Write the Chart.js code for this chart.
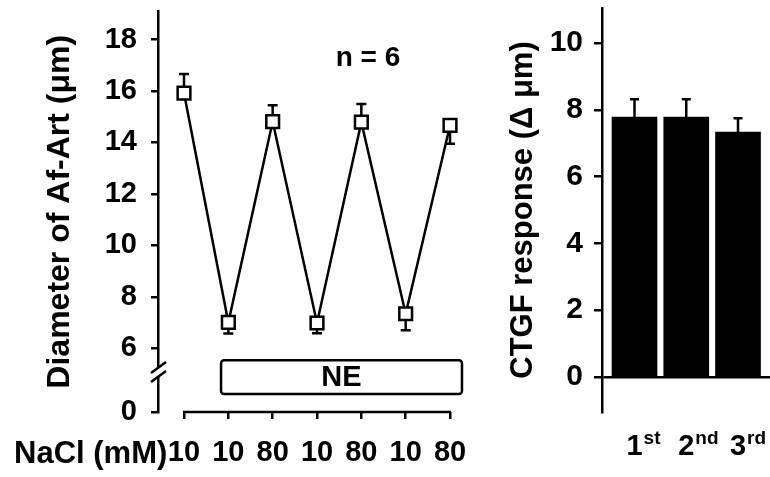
<!DOCTYPE html>
<html><head><meta charset="utf-8">
<script src="https://cdn.jsdelivr.net/npm/chart.js@4.4.0/dist/chart.umd.min.js"></script>
<style>
html,body{margin:0;padding:0;background:#fff;width:770px;height:477px;overflow:hidden;}
#left{position:absolute;left:0;top:0;}
#right{position:absolute;left:490px;top:0;}
</style></head><body>
<canvas id="left" width="490" height="477"></canvas>
<canvas id="right" width="280" height="477"></canvas>
<script>
// ---- data ----
const naclLabels = ['10', '10', '80', '10', '80', '10', '80'];
const diameter = [15.92, 7.0, 14.81, 6.98, 14.79, 7.34, 14.66];
const diameterErr = [0.74, 0.43, 0.64, 0.40, 0.70, 0.64, 0.71];
const diameterErrDir = [1, -1, 1, -1, 1, -1, -1];
const leftYTicks = [0, 6, 8, 10, 12, 14, 16, 18];
const responseLabels = ['1', '2', '3'];
const responseSup = ['st', 'nd', 'rd'];
const response = [7.78, 7.78, 7.33];
const responseErr = [0.54, 0.54, 0.42];
const rightYTicks = [0, 2, 4, 6, 8, 10];

// ---- styling ----
const FONT = "'Liberation Sans', Arial, Helvetica, sans-serif";
const BREAK_MIN = 3.52;   // axis position standing for "0" below the axis break
const bold = (size) => ({ family: FONT, size: size, weight: 'bold' });
const noPadY = (w) => (s) => { s.width = w; s.paddingTop = 0; s.paddingBottom = 0; };
const noPadX = (h) => (s) => { s.height = h; s.paddingLeft = 0; s.paddingRight = 0; };

const leftDeco = {
  id: 'leftDeco',
  beforeDatasetsDraw(chart) {
    const { ctx, scales: { x, y } } = chart;
    ctx.save();
    ctx.strokeStyle = '#000';
    ctx.lineWidth = 2.5;
    diameter.forEach((v, i) => {
      const px = x.getPixelForValue(i);
      const py = y.getPixelForValue(v);
      const pe = y.getPixelForValue(v + diameterErrDir[i] * diameterErr[i]);
      ctx.beginPath();
      ctx.moveTo(px, py); ctx.lineTo(px, pe);
      ctx.moveTo(px - 5, pe); ctx.lineTo(px + 5, pe);
      ctx.stroke();
    });
    ctx.restore();
  },
  afterDraw(chart) {
    const { ctx, chartArea, scales: { x, y } } = chart;
    ctx.save();
    ctx.strokeStyle = '#000';
    ctx.fillStyle = '#000';
    ctx.lineWidth = 2.5;
    // x axis line between first and last tick
    ctx.beginPath();
    ctx.moveTo(x.getPixelForValue(0) - 1, chartArea.bottom);
    ctx.lineTo(x.getPixelForValue(naclLabels.length - 1) + 1, chartArea.bottom);
    ctx.stroke();
    // axis break
    const L = chartArea.left;
    const yA = y.getPixelForValue(5.23), yB = y.getPixelForValue(4.88);
    ctx.fillStyle = '#fff';
    ctx.fillRect(L - 4, yA, 8, yB - yA);
    ctx.beginPath();
    ctx.moveTo(L - 7, yA + 5); ctx.lineTo(L + 8, yA - 6);
    ctx.moveTo(L - 7, yB + 5); ctx.lineTo(L + 8, yB - 6);
    ctx.stroke();
    // NE box
    const bx0 = x.getPixelForValue(0.835), bx1 = x.getPixelForValue(6.27);
    const by0 = y.getPixelForValue(5.535), by1 = y.getPixelForValue(4.22);
    ctx.beginPath();
    ctx.roundRect(bx0, by0, bx1 - bx0, by1 - by0, 3);
    ctx.stroke();
    ctx.fillStyle = '#000';
    ctx.textAlign = 'center';
    ctx.textBaseline = 'middle';
    ctx.font = "bold 29px " + FONT;
    ctx.fillText('NE', (bx0 + bx1) / 2, (by0 + by1) / 2 + 1);
    // n = 6
    ctx.font = "bold 28px " + FONT;
    ctx.fillText('n = 6', x.getPixelForValue(4.15), y.getPixelForValue(17.27));
    // NaCl (mM)
    ctx.textAlign = 'left';
    ctx.font = "bold 31px " + FONT;
    ctx.fillText('NaCl (mM)', 14, 454);
    ctx.restore();
  }
};

new Chart(document.getElementById('left'), {
  type: 'line',
  data: {
    datasets: [{
      data: diameter.map((v, i) => ({ x: i, y: v })),
      borderColor: '#000', borderWidth: 2.5, tension: 0,
      pointStyle: 'rect', pointRadius: 9, pointBackgroundColor: '#fff',
      pointBorderColor: '#000', pointBorderWidth: 2.5, clip: false
    }]
  },
  options: {
    responsive: false, animation: false, events: [],
    layout: { padding: { top: 10, right: 27, left: 0, bottom: 0 } },
    plugins: { legend: { display: false }, tooltip: { enabled: false } },
    scales: {
      x: {
        type: 'linear', min: -0.5865, max: 6.293,
        afterBuildTicks: (s) => { s.ticks = naclLabels.map((_, i) => ({ value: i })); },
        afterFit: noPadX(65),
        border: { display: false },
        grid: { display: true, drawOnChartArea: false, drawTicks: true, tickLength: 7, color: '#000', lineWidth: 2.5 },
        ticks: { callback: (v, i) => naclLabels[i], maxRotation: 0, autoSkip: false, padding: 17, color: '#000', font: bold(29) }
      },
      y: {
        type: 'linear', min: BREAK_MIN, max: 19.09,
        afterBuildTicks: (s) => { s.ticks = leftYTicks.map(v => ({ value: v === 0 ? BREAK_MIN : v })); },
        afterFit: noPadY(158),
        border: { display: true, color: '#000', width: 2.5 },
        grid: { drawOnChartArea: false, tickLength: 7, color: '#000', lineWidth: 2.5 },
        ticks: { callback: (v, i) => String(leftYTicks[i]), padding: 14, color: '#000', font: bold(29) },
        title: { display: true, text: 'Diameter of Af-Art (μm)', color: '#000', font: bold(32), padding: { top: 41, bottom: 0 } }
      }
    }
  },
  plugins: [leftDeco]
});

const rightDeco = {
  id: 'rightDeco',
  afterDatasetsDraw(chart) {
    const { ctx, chartArea, scales: { x, y } } = chart;
    ctx.save();
    ctx.strokeStyle = '#000';
    ctx.lineWidth = 2.5;
    response.forEach((v, i) => {
      const px = x.getPixelForValue(i);
      const py = y.getPixelForValue(v);
      const pe = y.getPixelForValue(v + responseErr[i]);
      ctx.beginPath();
      ctx.moveTo(px, py); ctx.lineTo(px, pe);
      ctx.moveTo(px - 4.5, pe); ctx.lineTo(px + 4.5, pe);
      ctx.stroke();
    });
    // superscripts of ordinal labels
    ctx.fillStyle = '#000';
    ctx.textBaseline = 'alphabetic';
    responseLabels.forEach((lab, i) => {
      ctx.font = "bold 29px " + FONT;
      const w = ctx.measureText(lab).width;
      const px = x.getPixelForValue(i);
      ctx.font = "bold 19px " + FONT;
      ctx.textAlign = 'left';
      ctx.fillText(responseSup[i], px + w / 2 + 1, chartArea.bottom + 32);
    });
    ctx.restore();
  }
};

new Chart(document.getElementById('right'), {
  type: 'bar',
  data: {
    datasets: [{
      data: response.map((v, i) => ({ x: i, y: v })),
      backgroundColor: '#000', borderWidth: 0, barThickness: 45
    }]
  },
  options: {
    responsive: false, animation: false, events: [],
    layout: { padding: { top: 8, right: 0, left: 0, bottom: 0 } },
    plugins: { legend: { display: false }, tooltip: { enabled: false } },
    scales: {
      x: {
        type: 'linear', min: -0.628, max: 2.618, offset: false,
        afterBuildTicks: (s) => { s.ticks = responseLabels.map((_, i) => ({ value: i })); },
        afterFit: noPadX(65),
        border: { display: false },
        grid: { display: false, drawTicks: false, offset: false },
        ticks: { callback: (v, i) => responseLabels[i], maxRotation: 0, autoSkip: false, padding: 18, color: '#000', font: bold(29) }
      },
      y: {
        type: 'linear', min: -1.05, max: 11.05,
        afterBuildTicks: (s) => { s.ticks = rightYTicks.map(v => ({ value: v })); },
        afterFit: noPadY(112),
        border: { display: true, color: '#000', width: 2.5 },
        grid: {
          drawOnChartArea: true, tickLength: 8, lineWidth: 2.5, tickColor: '#000',
          color: (c) => (c.tick && c.tick.value === 0 ? '#000' : 'rgba(0,0,0,0)')
        },
        ticks: { padding: 11, color: '#000', font: bold(30) },
        title: { display: true, text: 'CTGF response (Δ μm)', color: '#000', font: bold(31), padding: { top: 15, bottom: 0 } }
      }
    }
  },
  plugins: [rightDeco]
});
</script>
</body></html>
